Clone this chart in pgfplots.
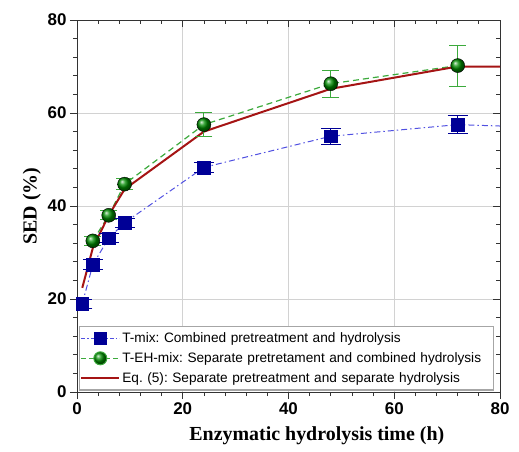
\documentclass[border=0pt]{standalone}
\usepackage{pgfplots}
\pgfplotsset{compat=1.18}
\usepackage{fontspec}
\setmainfont{Liberation Sans}
\newfontfamily\timesb{Liberation Serif}
\definecolor{tblue}{RGB}{0,0,150}
\definecolor{tblueline}{RGB}{80,80,225}
\definecolor{tgreen}{RGB}{0,140,0}
\definecolor{tgreenline}{RGB}{60,170,60}
\definecolor{tred}{RGB}{165,20,20}
\begin{document}
\begin{tikzpicture}[x=1bp,y=1bp]
\pgfplotsset{
  myaxis/.style={
    scale only axis, width=423bp, height=372bp,
    xmin=0, xmax=80, ymin=0, ymax=80,
    xtick={0,20,40,60,80}, ytick={0,20,40,60,80},
    minor x tick num=4, minor y tick num=4,
    major tick length=7bp, minor tick length=4bp,
    axis line style={black!80, line width=0.9bp},
    every tick/.style={black!80, line width=0.8bp},
  }
}
\begin{axis}[myaxis,
    xtick pos=bottom, ytick pos=left, tick align=outside,
    grid=major, grid style={gray!35, line width=0.6bp},
    /pgf/number format/assume math mode=true,
    ticklabel style={font=\bfseries\fontsize{17}{20}\selectfont},
    xlabel={\timesb\bfseries\fontsize{20}{24}\selectfont Enzymatic hydrolysis time (h)},
    ylabel={\timesb\bfseries\fontsize{20}{24}\selectfont SED (\%)},
    xlabel style={at={(rel axis cs:0.567,-0.118)}, anchor=center},
    ylabel style={at={(rel axis cs:-0.107,0.5)}, anchor=center},
    legend image code/.code={\draw[mark repeat=2,mark phase=2,#1] plot coordinates {(0bp,0bp) (19bp,0bp) (38bp,0bp)};},
    legend style={at={(0.004,0.004)}, anchor=south west, draw=gray!70, line width=1.3bp,
      font=\frenchspacing\fontsize{13.7}{16}\selectfont, nodes={text width=368bp, align=left},
      row sep=4.5bp, inner xsep=1bp, inner ysep=4bp},
    legend cell align=left,
]
% fitted lines
\addplot[tblueline, line width=1bp, dash pattern=on 6bp off 3bp on 1.5bp off 3bp, forget plot]
  coordinates {(1,19) (3,27.4) (6,33.1) (9,36.4) (24,48.3) (48,55.0) (72,57.5) (80,57.2)};
\addplot[tgreenline, line width=1.2bp, dash pattern=on 6bp off 4bp, forget plot]
  coordinates {(3,32.5) (6,38.0) (9,44.7) (24,57.5) (48,66.3) (72,70.2)};
\addplot[tred, line width=2bp, forget plot]
  coordinates {(1,22.4) (3,31.0) (6,38.0) (9,43.6) (24,56.0) (48,65.2) (72,70.0) (80,70.0)};
% measured points
\addplot[only marks, mark=square*, mark size=6.3bp, mark options={fill=tblue, draw=tblue}, forget plot,
  error bars/.cd, y dir=both, y explicit,
  error bar style={tblue, line width=1bp},
  error mark options={rotate=90, mark size=10bp, line width=1bp, tblue}]
  coordinates {(1,19)+-(0,1.0) (3,27.4)+-(0,1.0) (6,33.1)+-(0,1.0) (9,36.4)+-(0,1.0)
    (24,48.3)+-(0,1.0) (48,55.0)+-(0,1.75) (72,57.5)+-(0,1.9)};
\addplot[only marks, mark=ball, mark size=7bp, mark options={ball color=tgreen}, forget plot,
  error bars/.cd, y dir=both, y explicit,
  error bar style={tgreenline, line width=1bp},
  error mark options={rotate=90, mark size=8.5bp, line width=1bp, tgreenline}]
  coordinates {(3,32.5)+-(0,1.0) (6,38.0)+-(0,1.0) (9,44.7)+-(0,1.2)
    (24,57.5)+-(0,2.6) (48,66.3)+-(0,2.9) (72,70.2)+-(0,4.4)};
\addlegendimage{tblueline, line width=1bp, dash pattern=on 4bp off 2bp on 1.5bp off 2bp,
  mark=square*, mark size=6bp, mark options={solid, fill=tblue, draw=tblue}}
\addlegendentry{T-mix: Combined pretreatment and hydrolysis}
\addlegendimage{tgreenline, line width=1bp, dash pattern=on 5bp off 3bp,
  mark=ball, mark size=6.5bp, mark options={solid, ball color=tgreen}}
\addlegendentry{T-EH-mix: Separate pretretament and combined hydrolysis}
\addlegendimage{tred, line width=2bp}
\addlegendentry{Eq. (5): Separate pretreatment and separate hydrolysis}
\end{axis}
\begin{axis}[myaxis,
    xtick pos=top, ytick pos=right, tick align=inside,
    xticklabels={}, yticklabels={}, axis line style={draw=none}]
\end{axis}
\path (-77bp,-60bp) rectangle (442bp,392bp);
\end{tikzpicture}
\end{document}
